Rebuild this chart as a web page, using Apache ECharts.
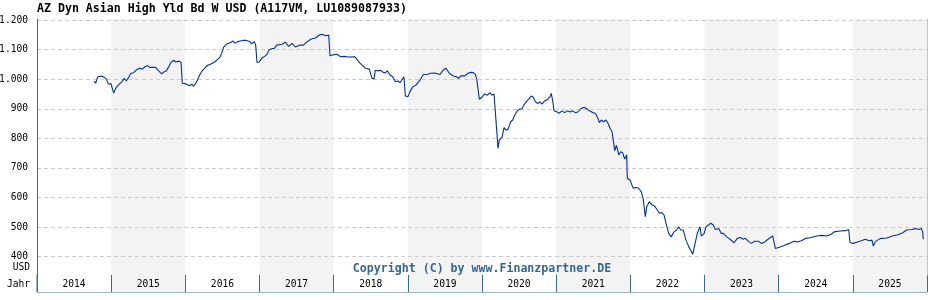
<!DOCTYPE html>
<html>
<head>
<meta charset="utf-8">
<script src="https://cdn.jsdelivr.net/npm/echarts@6/dist/echarts.min.js"></script>
<style>
html,body{margin:0;padding:0;background:#fff;}
#c{width:928px;height:300px;}
</style>
</head>
<body>
<div id="c"></div>
<script>
// ---- data (decimal year, value in USD) ----
const titleText = 'AZ Dyn Asian High Yld Bd W USD (A117VM, LU1089087933)';
const copyrightText = 'Copyright (C) by www.Finanzpartner.DE';
const yearLabels = ['2014','2015','2016','2017','2018','2019','2020','2021','2022','2023','2024','2025'];
const yTicks = [400,500,600,700,800,900,1000,1100,1200];

const t = [
2014.773,2014.791,2014.818,2014.872,2014.907,2014.934,2014.961,2014.998,2015.034,2015.061,
2015.096,2015.142,2015.177,2015.204,2015.240,2015.267,2015.304,2015.348,2015.385,2015.420,
2015.456,2015.493,2015.520,2015.600,2015.636,2015.681,2015.716,2015.743,2015.770,2015.807,
2015.843,2015.870,2015.915,2015.942,2015.959,2015.996,2016.022,2016.059,2016.086,2016.113,
2016.148,2016.194,2016.229,2016.275,2016.310,2016.346,2016.400,2016.436,2016.463,2016.490,
2016.517,2016.552,2016.606,2016.643,2016.670,2016.706,2016.741,2016.778,2016.822,2016.868,
2016.895,2016.930,2016.949,2016.966,2016.993,2017.030,2017.074,2017.101,2017.128,2017.164,
2017.200,2017.232,2017.303,2017.348,2017.394,2017.438,2017.483,2017.537,2017.591,2017.644,
2017.698,2017.762,2017.798,2017.843,2017.887,2017.933,2017.951,2017.987,2018.041,2018.095,
2018.139,2018.193,2018.283,2018.319,2018.355,2018.391,2018.426,2018.480,2018.517,2018.544,
2018.561,2018.607,2018.634,2018.669,2018.696,2018.723,2018.760,2018.796,2018.831,2018.867,
2018.894,2018.921,2018.948,2018.966,2019.002,2019.029,2019.066,2019.110,2019.164,2019.209,
2019.254,2019.308,2019.362,2019.434,2019.478,2019.515,2019.559,2019.613,2019.659,2019.686,
2019.713,2019.767,2019.811,2019.848,2019.883,2019.910,2019.929,2019.964,2020.000,2020.036,
2020.071,2020.108,2020.135,2020.162,2020.179,2020.198,2020.216,2020.233,2020.252,2020.270,
2020.297,2020.324,2020.351,2020.368,2020.387,2020.414,2020.441,2020.476,2020.503,2020.539,
2020.566,2020.603,2020.638,2020.665,2020.692,2020.719,2020.746,2020.782,2020.809,2020.845,
2020.880,2020.917,2020.934,2020.953,2020.971,2021.007,2021.042,2021.079,2021.115,2021.150,
2021.186,2021.223,2021.258,2021.294,2021.331,2021.375,2021.412,2021.447,2021.493,2021.528,
2021.564,2021.582,2021.609,2021.636,2021.672,2021.699,2021.726,2021.753,2021.770,2021.789,
2021.811,2021.824,2021.843,2021.870,2021.897,2021.924,2021.951,2021.959,2021.995,2022.022,
2022.040,2022.067,2022.103,2022.148,2022.175,2022.202,2022.221,2022.256,2022.292,2022.328,
2022.364,2022.390,2022.427,2022.454,2022.481,2022.517,2022.552,2022.589,2022.625,2022.652,
2022.679,2022.714,2022.750,2022.787,2022.814,2022.841,2022.868,2022.903,2022.939,2022.957,
2022.993,2023.020,2023.084,2023.119,2023.146,2023.191,2023.226,2023.254,2023.300,2023.345,
2023.399,2023.443,2023.480,2023.523,2023.550,2023.596,2023.631,2023.677,2023.731,2023.766,
2023.812,2023.856,2023.920,2023.937,2023.955,2024.009,2024.072,2024.143,2024.207,2024.251,
2024.305,2024.369,2024.422,2024.513,2024.584,2024.648,2024.710,2024.746,2024.827,2024.898,
2024.944,2024.962,2025.006,2025.060,2025.114,2025.168,2025.222,2025.258,2025.276,2025.303,
2025.366,2025.457,2025.546,2025.609,2025.672,2025.726,2025.798,2025.852,2025.888,2025.923,
2025.942,2025.950
];
const v = [
994,986,1008,1011,1006,1001,984,984,953,969,
980,991,1003,994,1008,1020,1022,1033,1037,1034,
1042,1046,1040,1040,1029,1018,1025,1028,1039,1057,
1064,1058,1061,1057,986,985,988,978,983,976,
989,1014,1029,1041,1048,1051,1059,1067,1073,1087,
1108,1118,1123,1129,1121,1127,1129,1131,1131,1127,
1119,1127,1115,1057,1057,1071,1078,1084,1099,1103,
1104,1115,1118,1125,1111,1121,1109,1115,1115,1127,
1136,1140,1148,1152,1147,1149,1079,1082,1084,1076,
1077,1075,1076,1065,1054,1046,1037,1034,1003,1001,
1030,1028,1030,1023,1021,1028,1014,1008,991,994,
988,998,1008,943,941,958,974,980,997,1016,
1016,1020,1021,1016,1031,1037,1020,1011,1008,1003,
1011,1011,1020,1023,1022,1016,1000,932,939,950,
946,954,946,950,946,828,766,794,789,803,
836,828,831,842,856,862,879,893,898,900,
913,926,934,943,939,924,918,923,916,927,
930,941,952,927,893,890,885,893,887,893,
889,893,887,889,900,905,900,893,887,885,
868,853,862,856,862,851,834,822,794,758,
776,766,744,755,751,730,744,665,659,642,
631,634,633,620,592,535,569,586,575,571,
558,547,549,541,513,479,467,484,490,501,
490,490,456,434,422,408,439,479,501,470,
477,501,513,507,492,495,479,479,467,459,
447,462,465,459,462,451,445,452,452,445,
450,459,470,465,428,432,438,445,452,450,
454,462,464,470,472,470,476,484,487,488,
492,447,445,450,454,459,454,456,436,451,
461,463,471,474,481,490,492,495,492,495,
484,459
];

// ---- layout ----
const L = 37, R = 1;
const PLOT_TOP = 19, PLOT_BOTTOM = 275;      // band area / series grid
const GRID_TOP = 20, GRID_BOTTOM = 256.7;    // 1.200 line .. 400 line
const BOX_TOP = 275, BOX_BOTTOM = 292;
const pxPer = (GRID_BOTTOM - GRID_TOP) / (yTicks[yTicks.length-1] - yTicks[0]);
const yMin = yTicks[0] - (PLOT_BOTTOM - GRID_BOTTOM) / pxPer;
const yMax = yTicks[yTicks.length-1] + (GRID_TOP - PLOT_TOP) / pxPer;

const lineColor = '#003399';
const frameColor = '#3a6a9c';
const band = ['#ffffff', '#f3f3f3'];
const mono = '"DejaVu Sans Mono", "Liberation Mono", monospace';
const small = 9.6;

function fmt(val) {
  if (val >= 1000) {
    return Math.floor(val / 1000) + '.' + String(val % 1000).padStart(3, '0');
  }
  return String(val);
}

const chart = echarts.init(document.getElementById('c'), null, {renderer: 'canvas'});
chart.setOption({
  animation: false,
  backgroundColor: '#ffffff',
  title: {
    text: titleText,
    left: L, top: 3, padding: 0,
    textStyle: {fontFamily: mono, fontWeight: 'bold', fontSize: 11.6, color: '#000'}
  },
  grid: [
    {left: L, right: R, top: PLOT_TOP, bottom: 300 - PLOT_BOTTOM},
    {left: L, right: R, top: GRID_TOP, bottom: 300 - GRID_BOTTOM, outerBoundsMode: 'none'},
    {left: L, right: R, top: BOX_TOP, bottom: 300 - BOX_BOTTOM, show: true,
     borderColor: frameColor, borderWidth: 1, backgroundColor: 'transparent'}
  ],
  xAxis: [
    {gridIndex: 0, type: 'value', min: 2014, max: 2026, interval: 1, z: 0,
     axisLine: {show: false}, axisTick: {show: false}, axisLabel: {show: false},
     splitLine: {show: false}, splitArea: {show: true, areaStyle: {color: band}}},
    {gridIndex: 1, type: 'value', min: 0, max: 1, show: false},
    {gridIndex: 2, type: 'category', data: yearLabels, boundaryGap: true, position: 'bottom', z: 3,
     axisLine: {show: false}, axisTick: {show: false},
     axisLabel: {inside: true, margin: 3, fontFamily: mono, fontSize: small, color: '#000'},
     splitLine: {show: true, lineStyle: {color: frameColor, width: 1}},
     splitArea: {show: true, areaStyle: {color: band}}}
  ],
  yAxis: [
    {gridIndex: 0, type: 'value', min: yMin, max: yMax, z: 3,
     axisLine: {show: true, lineStyle: {color: frameColor, width: 1}},
     axisTick: {show: false}, axisLabel: {show: false}, splitLine: {show: false}},
    {gridIndex: 1, type: 'value', min: yTicks[0], max: yTicks[yTicks.length-1], interval: 100, z: 1,
     axisLine: {show: false}, axisTick: {show: false},
     axisLabel: {margin: 7, padding: [0, 2, 0, 0], fontFamily: mono, fontSize: small, color: '#000', formatter: fmt},
     splitLine: {show: true, lineStyle: {color: '#cccccc', width: 1, type: [4, 3]}}},
    {gridIndex: 0, type: 'value', min: yMin, max: yMax, position: 'right', z: 3,
     axisLine: {show: true, lineStyle: {color: '#c4c4c4', width: 1}},
     axisTick: {show: false}, axisLabel: {show: false}, splitLine: {show: false}},
    {gridIndex: 2, type: 'value', min: 0, max: 1, show: false}
  ],
  graphic: [
    {type: 'text', x: 30, y: 267.5, z: 10,
     style: {text: 'USD', font: small + 'px ' + mono, fill: '#000', align: 'right', verticalAlign: 'middle'}},
    {type: 'text', x: 7, y: 284, z: 10,
     style: {text: 'Jahr', font: small + 'px ' + mono, fill: '#000', align: 'left', verticalAlign: 'middle'}},
    {type: 'text', x: (L + 928 - R) / 2, y: 268.5, z: 10,
     style: {text: copyrightText, font: 'bold 11.6px ' + mono, fill: '#336699', align: 'center', verticalAlign: 'middle'}}
  ],
  series: [
    {type: 'line', xAxisIndex: 0, yAxisIndex: 0, z: 5,
     data: t.map((x, i) => [x, v[i]]),
     showSymbol: false, symbol: 'none', smooth: false,
     lineStyle: {color: lineColor, width: 1.1}, clip: true}
  ]
});
</script>
</body>
</html>
